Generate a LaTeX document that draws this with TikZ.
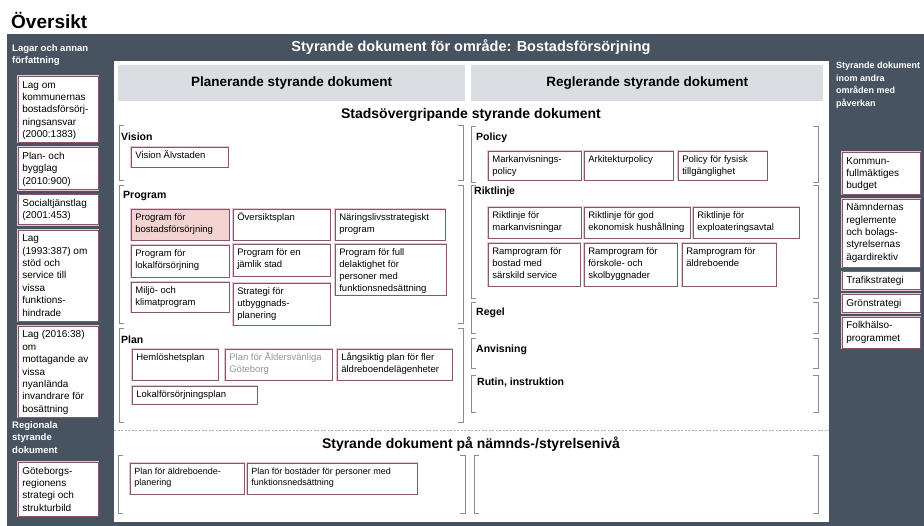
\documentclass[tikz,border=0pt]{standalone}
\usepackage{fontspec}
\setmainfont{Liberation Sans}
\usetikzlibrary{positioning}
\definecolor{panel}{RGB}{72,83,97}
\definecolor{head}{RGB}{218,221,225}
\definecolor{frame}{RGB}{135,85,108}
\definecolor{glow}{RGB}{226,200,210}
\definecolor{pinkfill}{RGB}{243,210,210}
\definecolor{brkgray}{RGB}{140,140,140}
\newcommand{\tb}[3]{\parbox[t][#2pt][t]{#1pt}{\raggedright\strut#3}}

\begin{document}
\begin{tikzpicture}[x=1pt,y=-1pt,
  doc/.style={draw=frame, line width=0.7pt, fill=white, preaction={draw=glow, line width=2.2pt}, anchor=north west, inner xsep=4pt, inner ysep=3pt, font=\fontsize{9.5}{12}\selectfont},
  law/.style={doc, font=\fontsize{10}{12.4}\selectfont},
  low/.style={doc, font=\fontsize{9}{11.5}\selectfont},
  hd/.style={fill=head, anchor=north west, inner sep=0pt, minimum height=36pt, font=\fontsize{13.5}{15}\selectfont\bfseries},
  sec/.style={anchor=west, inner sep=0pt, font=\fontsize{10.5}{12}\selectfont\bfseries},
  side/.style={anchor=north west, inner sep=0pt, align=left, text=white, font=\fontsize{9.5}{12.5}\selectfont\bfseries},
  brk/.style={draw=brkgray, line width=0.5pt},
  big/.style={font=\fontsize{14}{16}\selectfont\bfseries}]
\useasboundingbox (0,0) rectangle (924,526);
\clip (0,0) rectangle (924,526);
\node[anchor=north west, inner sep=0pt, font=\fontsize{19}{22}\selectfont\bfseries] (overview) at (11,12) {Översikt};
\fill[panel] (7,34) rectangle (924,526);
\fill[white] (114,61) rectangle (829,522);
\node[text=white, font=\fontsize{14.5}{16}\selectfont\bfseries] (area) at (471,47) {Styrande dokument för område: Bostadsförsörjning};
\node[hd, minimum width=347pt] (planhd) at (118,65) {Planerande styrande dokument};
\node[hd, minimum width=352pt] (reglhd) at (471,65) {Reglerande styrande dokument};
\node[big] (city) at (471,115) {Stadsövergripande styrande dokument};
\node[big] (board) at (471,444) {Styrande dokument på nämnds-/styrelsenivå};
\draw[gray!60, dash pattern=on 2pt off 1.5pt] (114,430) -- (829,430);

\node[side] (lawlbl) at (12,44) {Lagar och annan\\författning};
\node[law] (law1) at (18,76) {\tb{72}{60}{Lag om\\kommunernas\\bostadsförsörj-\\ningsansvar\\(2000:1383)}};
\node[law, below=4.5pt of law1] (law2) {\tb{72}{36}{Plan- och\\bygglag\\(2010:900)}};
\node[law, below=4.5pt of law2] (law3) {\tb{72}{24}{Socialtjänstlag\\(2001:453)}};
\node[law, below=4.5pt of law3] (law4) {\tb{72}{85}{Lag\\(1993:387) om\\stöd och\\service till\\vissa\\funktions-\\hindrade}};
\node[law, below=4.5pt of law4] (law5) {\tb{72}{85}{Lag (2016:38)\\om\\mottagande av\\vissa\\nyanlända\\invandrare för\\bosättning}};
\node[side] (reglbl) at (12,421) {Regionala\\styrande\\dokument};
\node[law] (reg1) at (18,462) {\tb{72}{48}{Göteborgs-\\regionens\\strategi och\\strukturbild}};

\node[side, font=\fontsize{9}{12.5}\selectfont\bfseries] (othlbl) at (836,62) {Styrande dokument\\inom andra\\områden med\\påverkan};
\node[law] (oth1) at (842,152) {\tb{70}{36}{Kommun-\\fullmäktiges\\budget}};
\node[law, below=4pt of oth1] (oth2) {\tb{70}{62}{Nämndernas\\reglemente\\och bolags-\\styrelsernas\\ägardirektiv}};
\node[law, below=4pt of oth2] (oth3) {\tb{70}{12}{Trafikstrategi}};
\node[law, below=4pt of oth3] (oth4) {\tb{70}{12}{Grönstrategi}};
\node[law, below=4pt of oth4] (oth5) {\tb{70}{25}{Folkhälso-\\programmet}};

\draw[brk] (124,125) -- (119,125) -- (119,180) -- (124,180);
\draw[brk] (124,185) -- (119,185) -- (119,323) -- (124,323);
\draw[brk] (124,328) -- (119,328) -- (119,422) -- (124,422);
\draw[brk] (458,125) -- (463,125) -- (463,180) -- (458,180);
\draw[brk] (458,185) -- (463,185) -- (463,323) -- (458,323);
\draw[brk] (458,328) -- (463,328) -- (463,422) -- (458,422);
\draw[brk] (476,126) -- (471,126) -- (471,182) -- (476,182);
\draw[brk] (476,185) -- (471,185) -- (471,298) -- (476,298);
\draw[brk] (476,302) -- (471,302) -- (471,333) -- (476,333);
\draw[brk] (476,338) -- (471,338) -- (471,368) -- (476,368);
\draw[brk] (476,375) -- (471,375) -- (471,412) -- (476,412);
\draw[brk] (813,126) -- (818,126) -- (818,182) -- (813,182);
\draw[brk] (813,185) -- (818,185) -- (818,298) -- (813,298);
\draw[brk] (813,302) -- (818,302) -- (818,333) -- (813,333);
\draw[brk] (813,338) -- (818,338) -- (818,368) -- (813,368);
\draw[brk] (813,375) -- (818,375) -- (818,412) -- (813,412);
\draw[brk] (123,455) -- (118,455) -- (118,513) -- (123,513);
\draw[brk] (460,455) -- (465,455) -- (465,513) -- (460,513);
\draw[brk] (479,455) -- (474,455) -- (474,513) -- (479,513);
\draw[brk] (813,455) -- (818,455) -- (818,513) -- (813,513);

\node[sec] (vision) at (121,137) {Vision};
\node[sec] (program) at (123,196) {Program};
\node[sec] (plan) at (121,340) {Plan};
\node[sec] (policy) at (476,138) {Policy};
\node[sec] (riktlinje) at (474,192) {Riktlinje};
\node[sec] (regel) at (476,313) {Regel};
\node[sec] (anvisning) at (476,350) {Anvisning};
\node[sec] (rutin) at (477,383) {Rutin, instruktion};

\node[doc] (vis1) at (131,147) {\tb{89}{14}{Vision Älvstaden}};
\node[doc, fill=pinkfill] (prog1) at (131,209) {\tb{90}{25}{Program för\\bostadsförsörjning}};
\node[doc] (prog2) at (233,209) {\tb{89}{25}{Översiktsplan}};
\node[doc] (prog3) at (335,209) {\tb{102}{25}{Näringslivsstrategiskt\\program}};
\node[doc] (prog4) at (131,245) {\tb{90}{26}{Program för\\lokalförsörjning}};
\node[doc] (prog5) at (233,244) {\tb{89}{26}{Program för en\\jämlik stad}};
\node[doc] (prog6) at (335,244) {\tb{103}{45}{Program för full\\delaktighet för\\personer med\\funktionsnedsättning}};
\node[doc] (prog7) at (131,282) {\tb{90}{24}{Miljö- och\\klimatprogram}};
\node[doc] (prog8) at (233,283) {\tb{89}{36}{Strategi för\\utbyggnads-\\planering}};
\node[doc] (plan1) at (132,349) {\tb{78}{25}{Hemlöshetsplan}};
\node[doc, text={rgb,255:red,150;green,150;blue,150}] (plan2) at (225,349) {\tb{99}{25}{Plan för Åldersvänliga\\Göteborg}};
\node[doc] (plan3) at (337,349) {\tb{107}{25}{Långsiktig plan för fler\\äldreboendelägenheter}};
\node[doc] (plan4) at (132,386) {\tb{117}{12}{Lokalförsörjningsplan}};

\node[doc] (pol1) at (488,151) {\tb{85}{23}{Markanvisnings-\\policy}};
\node[doc] (pol2) at (584,151) {\tb{81}{23}{Arkitekturpolicy}};
\node[doc] (pol3) at (678,151) {\tb{81}{23}{Policy för fysisk\\tillgänglighet}};
\node[doc] (rik1) at (488,207) {\tb{85}{25}{Riktlinje för\\markanvisningar}};
\node[doc] (rik2) at (584,207) {\tb{98}{25}{Riktlinje för god\\ekonomisk hushållning}};
\node[doc] (rik3) at (693,207) {\tb{98}{25}{Riktlinje för\\exploateringsavtal}};
\node[doc] (ram1) at (488,243) {\tb{84}{37}{Ramprogram för\\bostad med\\särskild service}};
\node[doc] (ram2) at (584,243) {\tb{85}{37}{Ramprogram för\\förskole- och\\skolbyggnader}};
\node[doc] (ram3) at (682,243) {\tb{86}{37}{Ramprogram för\\äldreboende}};

\node[low] (bot1) at (130,463) {\tb{106}{25}{Plan för äldreboende-\\planering}};
\node[low] (bot2) at (247,463) {\tb{162}{25}{Plan för bostäder för personer med\\funktionsnedsättning}};
\end{tikzpicture}
\end{document}
